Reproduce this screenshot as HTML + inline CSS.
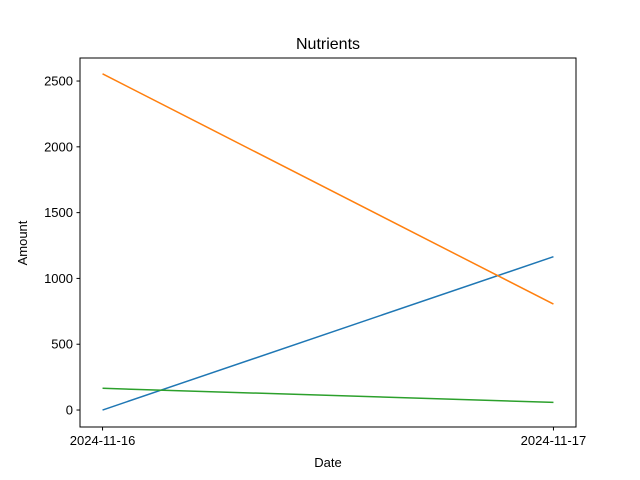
<!DOCTYPE html>
<html><head><meta charset="utf-8"><style>body{margin:0;background:#fff}svg{display:block;font-family:"Liberation Sans","DejaVu Sans",sans-serif}</style></head>
<body>
<svg id="chart" width="640" height="480" xmlns="http://www.w3.org/2000/svg">
<rect width="640" height="480" fill="#fff"/>
<text x="328" y="49" text-anchor="middle" font-size="16">Nutrients</text>
<text x="328" y="467" text-anchor="middle" font-size="13">Date</text>
<text x="27" y="243" text-anchor="middle" font-size="13" transform="rotate(-90 27 243)">Amount</text>
<g id="ticks"></g>
<g id="lines"></g>
<rect x="80" y="58" width="496" height="369" fill="none" stroke="#000" stroke-width="1"/>
</svg>
<script>
const categories = ["2024-11-16", "2024-11-17"];
const seriesNames = ["series-blue", "series-orange", "series-green"];
const blueValues = [0, 1165];
const orangeValues = [2555, 805];
const greenValues = [165, 58];
const yTicks = [0, 500, 1000, 1500, 2000, 2500];
const colors = ["#1f77b4", "#ff7f0e", "#2ca02c"];
const ns = "http://www.w3.org/2000/svg";
const L = 80, R = 576, T = 58, B = 427;
const xMin = -0.05, xMax = 1.05, yMin = -129, yMax = 2675;
const xs = i => L + (i - xMin) / (xMax - xMin) * (R - L);
const ys = v => B - (v - yMin) / (yMax - yMin) * (B - T);
const tg = document.getElementById('ticks');
function mk(tag, attrs, parent) { const e = document.createElementNS(ns, tag); for (const k in attrs) e.setAttribute(k, attrs[k]); parent.appendChild(e); return e; }
yTicks.forEach(v => {
  const y = ys(v);
  const t = mk('line', {x1: L - 3.5, x2: L, y1: y, y2: y, stroke: '#000'}, tg);
  
  
  const lb = mk('text', {x: L - 7, y: y + 4.5, 'text-anchor': 'end', 'font-size': 13}, tg);
  lb.textContent = v;
  
  
});
categories.forEach((c, i) => {
  const x = xs(i);
  const t = mk('line', {x1: x, x2: x, y1: B, y2: B + 3.5, stroke: '#000'}, tg);
  
  
  const lb = mk('text', {x: x, y: B + 18, 'text-anchor': 'middle', 'font-size': 13}, tg);
  lb.textContent = c;
  
  
});
const lg = document.getElementById('lines');
[blueValues, orangeValues, greenValues].forEach((vals, s) => {
  const pts = vals.map((v, i) => xs(i) + ',' + ys(v)).join(' ');
  const pl = mk('polyline', {points: pts, fill: 'none', stroke: colors[s], 'stroke-width': 1.5}, lg);
  
  
});
</script>
</body></html>
